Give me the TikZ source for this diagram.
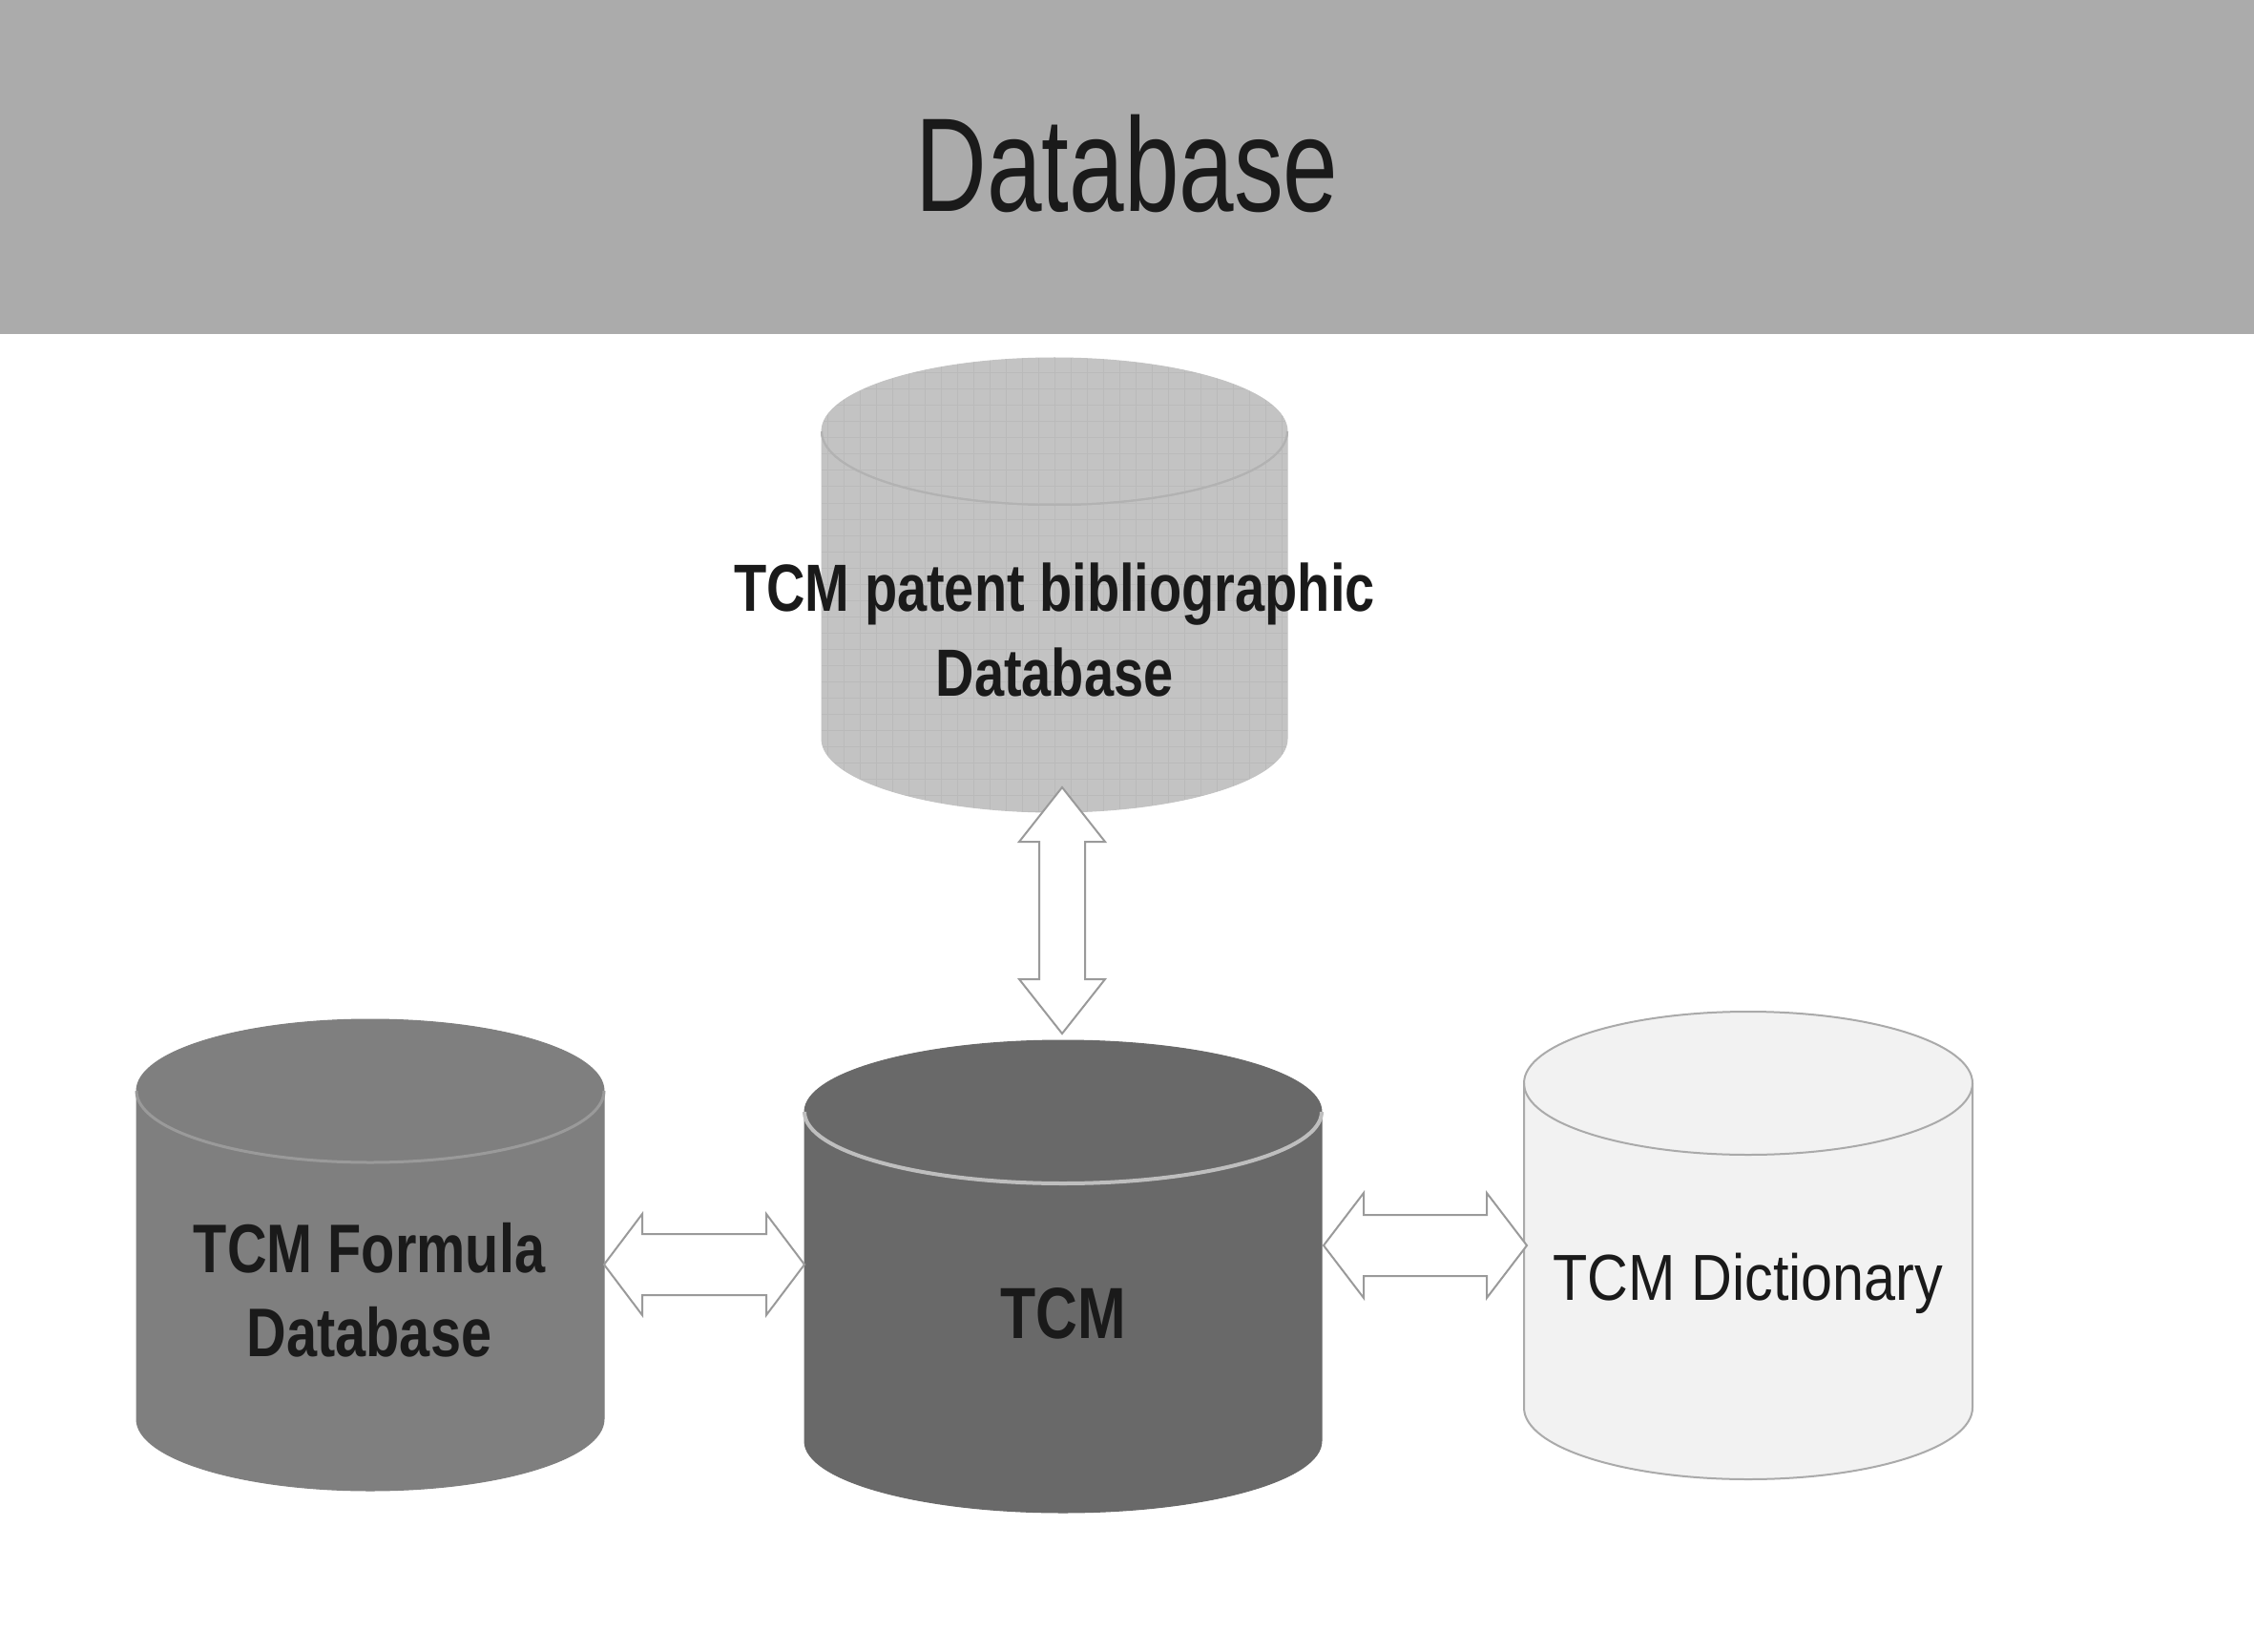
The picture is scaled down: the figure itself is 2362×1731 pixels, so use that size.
\documentclass[tikz,border=0pt]{standalone}
\usepackage{fontspec}
\usetikzlibrary{calc}
\setmainfont{Liberation Sans}
\newfontfamily\ttlfont[FakeStretch=0.74]{Liberation Sans}
\newfontfamily\lblfont[FakeStretch=0.8]{Liberation Sans}
\newfontfamily\dicfont[FakeStretch=0.87]{Liberation Sans}
\definecolor{banner}{HTML}{ABABAB}
\definecolor{topfill}{HTML}{C3C3C3}
\definecolor{topgrid}{HTML}{BABABA}
\definecolor{toprim}{HTML}{B2B2B2}
\definecolor{leftfill}{HTML}{7F7F7F}
\definecolor{leftrim}{HTML}{9A9A9A}
\definecolor{midfill}{HTML}{696969}
\definecolor{midrim}{HTML}{BEBEBE}
\definecolor{dictfill}{HTML}{F2F2F2}
\definecolor{dictline}{HTML}{AAAAAA}
\definecolor{arrline}{HTML}{9A9A9A}
\definecolor{txt}{HTML}{1A1A1A}
\newcommand\drawcyl[9]{%
  \filldraw[fill=#6,draw=#7,line width=#9] (#1-#2,#4) -- (#1-#2,#5)
    arc[start angle=180,end angle=360,x radius=#2,y radius=#3] -- (#1+#2,#4)
    arc[start angle=0,end angle=180,x radius=#2,y radius=#3] -- cycle;
  \draw[#8] (#1-#2,#4) arc[start angle=180,end angle=360,x radius=#2,y radius=#3];}
\tikzset{
  blockarr/.style={fill=white,draw=arrline,line width=0.2mm,line join=miter},
  lblbold/.style={font=\lblfont\bfseries, text=txt, inner sep=0pt, align=center},
}
\begin{document}
\begin{tikzpicture}[x=0.1mm,y=0.1mm]
\useasboundingbox (0,0) rectangle (2362,-1731);
\fill[white] (0,0) rectangle (2362,-1731);
% banner
\fill[banner] (0,0) rectangle (2362,-350);
\node[font=\ttlfont\fontsize{39.8pt}{44pt}\selectfont, text=txt, anchor=base, inner sep=0pt] (title) at (1181,-222) {Database};

% top cylinder (patent bibliographic)
\drawcyl{1105}{244}{77}{-452}{-774}{topfill}{topfill}{toprim,line width=0.2mm}{0.1mm}
\begin{scope}
  \clip (861,-452) -- (861,-774) arc[start angle=180,end angle=360,x radius=244,y radius=77]
     -- (1349,-452) arc[start angle=0,end angle=180,x radius=244,y radius=77] -- cycle;
  \draw[topgrid,line width=0.1mm] (861,-860) grid[step=17] (1349,-370);
\end{scope}
\draw[toprim,line width=0.2mm] (861,-452) arc[start angle=180,end angle=360,x radius=244,y radius=77];
\node[lblbold, font=\lblfont\bfseries\fontsize{19.9pt}{25.6pt}\selectfont] (patent) at (1105,-660) {TCM patent bibliographic\\Database};

% left cylinder (formula)
\drawcyl{388}{245}{75}{-1143}{-1487}{leftfill}{leftfill}{leftrim,line width=0.3mm}{0.1mm}
\node[lblbold, font=\lblfont\bfseries\fontsize{20.5pt}{25pt}\selectfont] (formula) at (387,-1352) {TCM Formula\\Database};

% middle cylinder (TCM)
\drawcyl{1114}{271}{75}{-1165}{-1510}{midfill}{midfill}{midrim,line width=0.4mm}{0.1mm}
\node[lblbold, font=\lblfont\bfseries\fontsize{21.6pt}{26pt}\selectfont, anchor=base] (tcm) at (1114,-1402) {TCM};

% right cylinder (dictionary)
\drawcyl{1832}{235}{75}{-1135}{-1475}{dictfill}{dictline}{dictline,line width=0.2mm}{0.2mm}
\node[font=\dicfont\fontsize{19.4pt}{24pt}\selectfont, text=txt, anchor=base, inner sep=0pt] (dict) at (1832,-1362) {TCM Dictionary};

% connector end points
\coordinate (pat-s) at (1113,-825);
\coordinate (tcm-n) at (1113,-1083);
\coordinate (for-e) at (633,-1325);
\coordinate (tcm-w) at (843,-1325);
\coordinate (tcm-e) at (1387,-1305);
\coordinate (dic-w) at (1600,-1305);

% vertical double block arrow
\draw[blockarr] (pat-s) -- ++(45,-57) -- ++(-21,0) -- ($(tcm-n)+(24,57)$) -- ++(21,0) -- (tcm-n)
  -- ++(-45,57) -- ++(21,0) -- ($(pat-s)+(-24,-57)$) -- ++(-21,0) -- cycle;
% left horizontal double block arrow
\draw[blockarr] (for-e) -- ++(40,53) -- ++(0,-21) -- ($(tcm-w)+(-40,32)$) -- ++(0,21) -- (tcm-w)
  -- ++(-40,-53) -- ++(0,21) -- ($(for-e)+(40,-32)$) -- ++(0,-21) -- cycle;
% right horizontal double block arrow
\draw[blockarr] (tcm-e) -- ++(42,55) -- ++(0,-23) -- ($(dic-w)+(-42,32)$) -- ++(0,23) -- (dic-w)
  -- ++(-42,-55) -- ++(0,23) -- ($(tcm-e)+(42,-32)$) -- ++(0,-23) -- cycle;
\end{tikzpicture}
\end{document}
